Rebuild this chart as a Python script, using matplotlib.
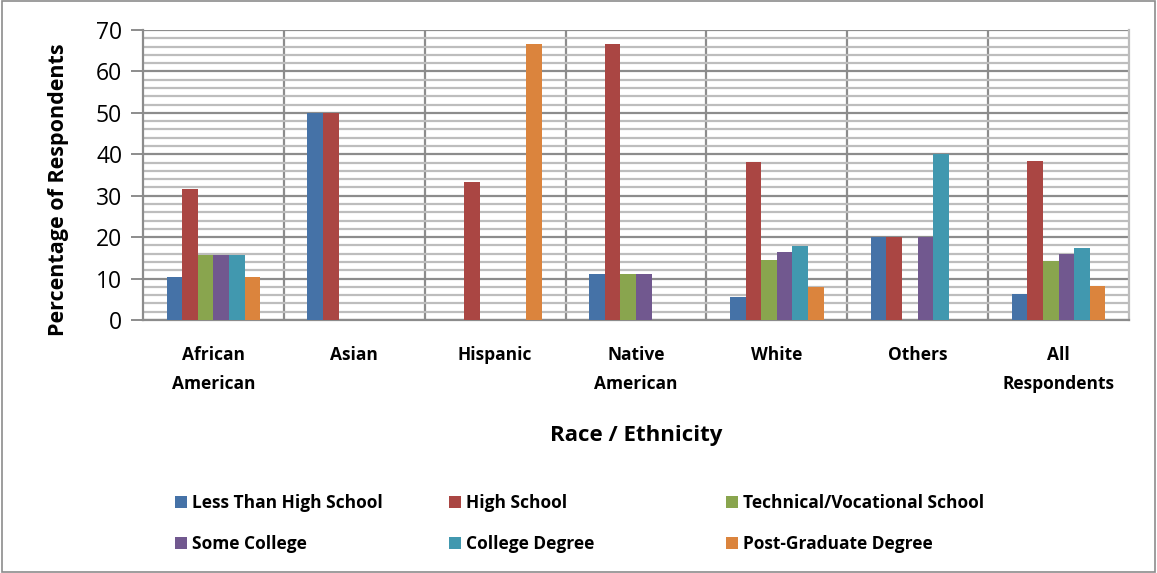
import numpy as np
import matplotlib.pyplot as plt
from matplotlib.patches import Rectangle
from matplotlib.ticker import MultipleLocator

plt.rcParams['font.family'] = ['Open Sans', 'DejaVu Sans']

categories = ["African\nAmerican", "Asian", "Hispanic", "Native\nAmerican",
              "White", "Others", "All\nRespondents"]
series_names = ["Less Than High School", "High School", "Technical/Vocational School",
                "Some College", "College Degree", "Post-Graduate Degree"]
less_than_hs = [10.5, 50.0, 0.0, 11.1, 5.6, 20.0, 6.3]
high_school = [31.6, 50.0, 33.3, 66.7, 38.2, 20.0, 38.3]
technical = [15.8, 0.0, 0.0, 11.1, 14.5, 0.0, 14.2]
some_college = [15.8, 0.0, 0.0, 11.1, 16.4, 20.0, 16.0]
college_degree = [15.8, 0.0, 0.0, 0.0, 17.9, 40.0, 17.4]
post_graduate = [10.5, 0.0, 66.7, 0.0, 8.0, 0.0, 8.2]
series_values = [less_than_hs, high_school, technical, some_college, college_degree, post_graduate]
colors = ["#4572A7", "#AA4643", "#89A54E", "#71588F", "#4198AF", "#DB843D"]

W, H = 1157, 573
fig = plt.figure(figsize=(W / 100, H / 100), dpi=100)
ax = fig.add_axes([143 / W, 1 - 320 / H, (1129 - 143) / W, (320 - 30) / H])

x = np.arange(len(categories))
bw = 0.111
bars = []
for i, (vals, c) in enumerate(zip(series_values, colors)):
    b = ax.bar(x + (i - 2.5) * bw, vals, bw, color=c, zorder=3, linewidth=0)
    bars.append(b)

ax.set_xlim(-0.5, len(categories) - 0.5)
ax.set_ylim(0, 70)
ax.yaxis.set_major_locator(MultipleLocator(10))
ax.yaxis.set_minor_locator(MultipleLocator(2))
ax.grid(axis='y', which='minor', color='#BDBDBD', linewidth=1.6, zorder=0)
ax.grid(axis='y', which='major', color='#8C8C8C', linewidth=1.6, zorder=1)
for xv in np.arange(0.5, len(categories) - 0.5):
    ax.axvline(xv, color='#8C8C8C', linewidth=1.6, zorder=1)

ax.spines['top'].set_visible(False)
for s in ['left', 'bottom', 'right']:
    ax.spines[s].set_color('#8C8C8C')
    ax.spines[s].set_linewidth(1.6)
ax.spines['right'].set_color('#BDBDBD')

ax.set_xticks(x)
ax.set_xticklabels(categories, fontsize=12.5, fontweight='bold')
for lbl in ax.get_xticklabels():
    lbl.set_linespacing(1.75)
ax.tick_params(axis='x', length=0, pad=19)
ax.tick_params(axis='y', which='major', length=9, width=1.4, color='#8C8C8C',
               labelsize=16.5, pad=6)
ax.tick_params(axis='y', which='minor', length=0)

ax.set_xlabel("Race / Ethnicity", fontsize=16, fontweight='bold', labelpad=23)
ax.set_ylabel("Percentage of Respondents", fontsize=15.5, fontweight='bold')
ax.yaxis.set_label_coords(-0.075, 0.45)

# legend laid out in three columns like the original
col_x = [175 / W, 449 / W, 726 / W]
for j in range(3):
    handles = [bars[j], bars[j + 3]]
    labels = [series_names[j], series_names[j + 3]]
    fig.legend(handles, labels, loc='upper left',
               bbox_to_anchor=(col_x[j], 1 - 494 / H), frameon=False,
               prop={'size': 12.5, 'weight': 'bold'}, handlelength=0.7,
               handleheight=0.7, handletextpad=0.3, labelspacing=1.35,
               borderaxespad=0, borderpad=0)

fig.patches.append(Rectangle((0.002, 0.002), 0.996, 0.996, transform=fig.transFigure,
                             fill=False, edgecolor='#8C8C8C', linewidth=1.2))

fig.savefig("out.png", dpi=100)
